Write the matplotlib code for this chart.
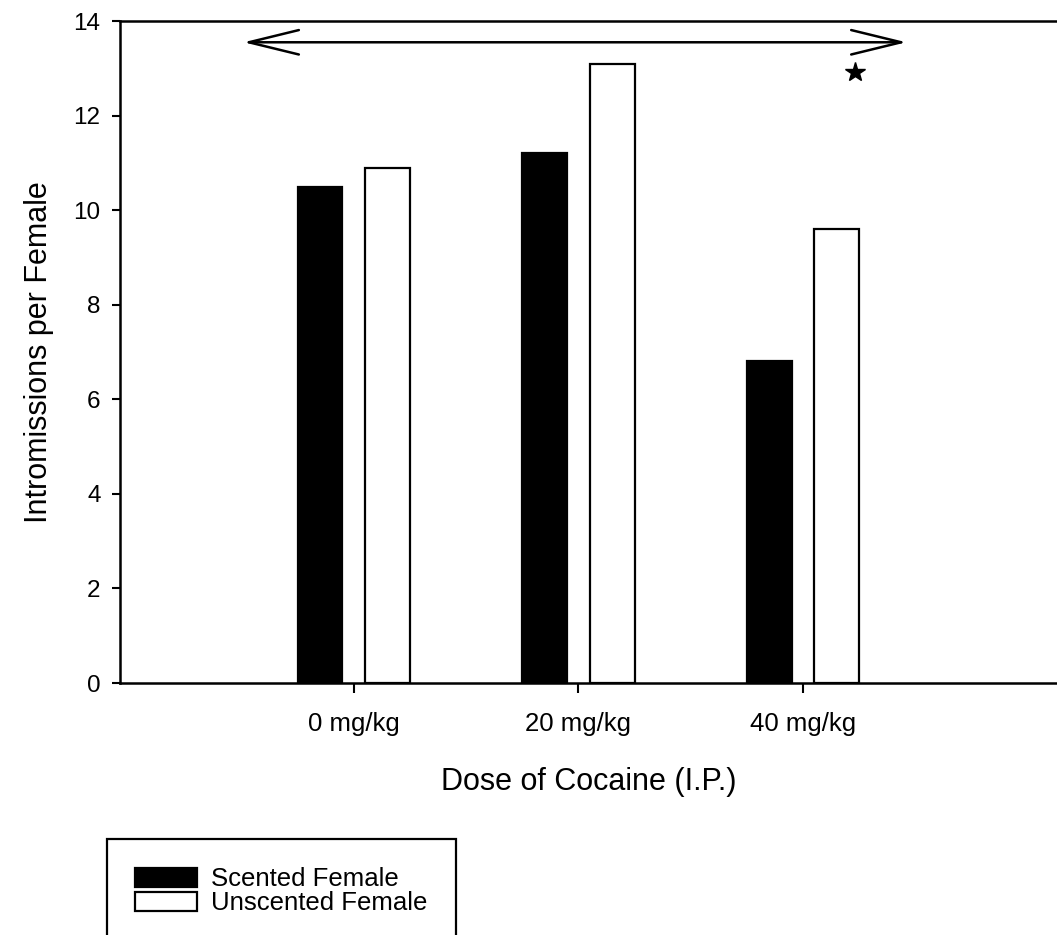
import matplotlib
matplotlib.use("Agg")
import matplotlib.pyplot as plt
import numpy as np

plt.rcParams['font.family'] = ['Liberation Sans', 'DejaVu Sans']

doses = ["0 mg/kg", "20 mg/kg", "40 mg/kg"]
scented = [10.5, 11.2, 6.8]
unscented = [10.9, 13.1, 9.6]
series_labels = ["Scented Female", "Unscented Female"]
yticks = [0, 2, 4, 6, 8, 10, 12, 14]

fig = plt.figure(figsize=(10.57, 9.35), dpi=100)
ax = fig.add_axes([120/1057, 1 - 683/935, 1 - 120/1057, (683 - 21)/935])

x = np.arange(len(doses))
w = 0.2
off = 0.15
b1 = ax.bar(x - off, scented, w, color='black', edgecolor='black', linewidth=1.6,
            label=series_labels[0])
b2 = ax.bar(x + off, unscented, w, color='white', edgecolor='black', linewidth=1.6,
            label=series_labels[1])

ax.set_xlim(-1.04, 3.13)
ax.set_ylim(0, 14)
ax.set_yticks(yticks)
ax.set_xticks(x)
ax.set_xticklabels(doses)

for s in ['left', 'bottom', 'top']:
    ax.spines[s].set_linewidth(1.8)
ax.spines['right'].set_visible(False)

ax.tick_params(axis='y', direction='out', length=6, width=1.5, pad=8, labelsize=17.5)
ax.tick_params(axis='x', direction='out', length=7, width=1.5, pad=14, labelsize=18.5)

ax.set_ylabel("Intromissions per Female", fontsize=22, labelpad=14)
ax.set_xlabel("Dose of Cocaine (I.P.)", fontsize=22, labelpad=22)

# significance arrow and star
ax.annotate('', xy=(-0.49, 13.55), xytext=(2.46, 13.55),
            arrowprops=dict(arrowstyle='<->,head_length=36,head_width=8.8',
                            mutation_scale=1, lw=1.8, color='black',
                            shrinkA=0, shrinkB=0))
ax.plot([2.23], [12.93], marker='*', color='black', markersize=15, clip_on=False)

leg = fig.legend(handles=[b1, b2], labels=series_labels,
                 loc='upper left', bbox_to_anchor=(107/1057, 1 - 839/935),
                 fontsize=18.5, frameon=True, fancybox=False, edgecolor='black',
                 framealpha=1.0,
                 handlelength=2.4, handleheight=0.75, handletextpad=0.55,
                 labelspacing=0.0, borderpad=1.1, borderaxespad=0)
leg.get_frame().set_linewidth(1.6)

fig.savefig("out.png", dpi=100)
